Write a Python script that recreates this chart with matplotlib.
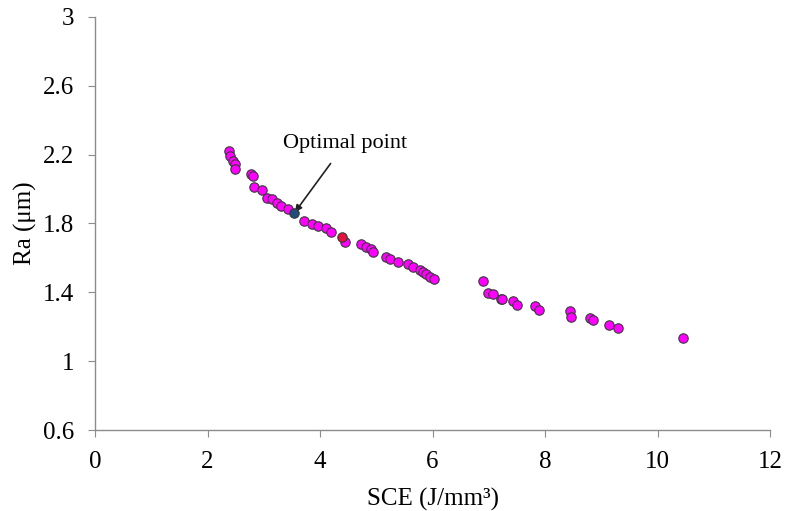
import matplotlib.pyplot as plt
from matplotlib.ticker import FuncFormatter

plt.rcParams['font.family'] = ['Liberation Serif', 'DejaVu Serif']

# Pareto front points
sce = [2.39, 2.40, 2.46, 2.48, 2.48, 2.77, 2.80, 2.83, 2.97, 3.05, 3.14, 3.23,
       3.31, 3.43, 3.71, 3.86, 3.97, 4.11, 4.20, 4.44, 4.73, 4.82, 4.91,
       4.95, 5.17, 5.25, 5.39, 5.57, 5.66, 5.78, 5.83, 5.89, 5.95, 6.02,
       6.90, 6.99, 7.07, 7.21, 7.24, 7.43, 7.50, 7.83, 7.89, 8.44, 8.47,
       8.80, 8.86, 9.14, 9.29, 10.46]
ra = [2.223, 2.19, 2.165, 2.144, 2.116, 2.085, 2.075, 2.01, 1.994, 1.95, 1.94, 1.92,
      1.90, 1.885, 1.814, 1.795, 1.783, 1.771, 1.752, 1.694, 1.678, 1.665, 1.649,
      1.632, 1.606, 1.591, 1.577, 1.562, 1.545, 1.53, 1.52, 1.506, 1.49, 1.475,
      1.467, 1.397, 1.391, 1.362, 1.362, 1.349, 1.324, 1.322, 1.298, 1.291, 1.256,
      1.248, 1.238, 1.209, 1.194, 1.134]

optimal_sce, optimal_ra = 3.54, 1.859
red_sce, red_ra = 4.39, 1.723

fig = plt.figure(figsize=(7.85, 5.11), dpi=100)
ax = fig.add_axes([0.121, 0.1585, 0.86, 0.8085])

ax.scatter(sce, ra, s=46, c='#FF00FF', edgecolors='#3a3a3a', linewidths=0.8, zorder=3)
ax.scatter([red_sce], [red_ra], s=46, c='#E8103C', edgecolors='#3a3a3a', linewidths=0.8, zorder=3)
ax.scatter([optimal_sce], [optimal_ra], s=46, c='#1F4E79', edgecolors='#3a3a3a', linewidths=0.8, zorder=4)

ax.annotate('Optimal point', xy=(optimal_sce, optimal_ra), xytext=(4.45, 2.265),
            ha='center', va='center', fontsize=16,
            arrowprops=dict(arrowstyle='-|>', color='#222222', lw=1.2,
                            shrinkA=7, shrinkB=1, mutation_scale=10))

ax.set_xlim(0, 12)
ax.set_ylim(0.6, 3)
ax.set_xticks([0, 2, 4, 6, 8, 10, 12])
ax.set_yticks([0.6, 1.0, 1.4, 1.8, 2.2, 2.6, 3.0])
ax.yaxis.set_major_formatter(FuncFormatter(lambda v, p: f'{v:g}'))

for side in ['top', 'right']:
    ax.spines[side].set_visible(False)
for side in ['left', 'bottom']:
    ax.spines[side].set_color('#8c8c8c')
    ax.spines[side].set_linewidth(1.0)
ax.tick_params(direction='out', length=5, color='#8c8c8c', labelsize=18)
ax.tick_params(axis='x', pad=10)
ax.tick_params(axis='y', pad=10)

ax.set_xlabel('SCE (J/mm³)', fontsize=18, labelpad=11)
ax.set_ylabel('Ra (μm)', fontsize=18, labelpad=4)

fig.savefig('out.png', dpi=100)
